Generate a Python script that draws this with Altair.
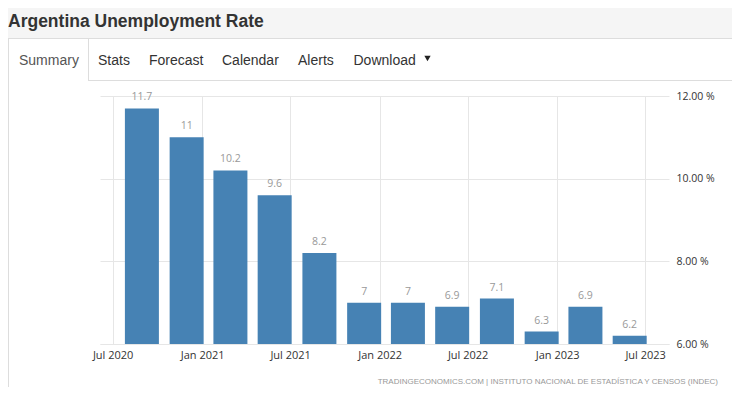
import altair as alt
import pandas as pd

# ---------------- data ----------------
periods = ["2020-09-30", "2020-12-31", "2021-03-31", "2021-06-30",
           "2021-09-30", "2021-12-31", "2022-03-31", "2022-06-30",
           "2022-09-30", "2022-12-31", "2023-03-31", "2023-06-30"]
rates = [11.7, 11.0, 10.2, 9.6, 8.2, 7.0, 7.0, 6.9, 7.1, 6.3, 6.9, 6.2]
rate_labels = ["11.7", "11", "10.2", "9.6", "8.2", "7", "7", "6.9", "7.1", "6.3", "6.9", "6.2"]
x_tick_months = [(2020, 7), (2021, 1), (2021, 7), (2022, 1), (2022, 7), (2023, 1), (2023, 7)]
y_ticks = [6, 8, 10, 12]
page_title = "Argentina Unemployment Rate"
tab_names = ["Summary", "Stats", "Forecast", "Calendar", "Alerts", "Download"]
source_note = "TRADINGECONOMICS.COM | INSTITUTO NACIONAL DE ESTADÍSTICA Y CENSOS (INDEC)"

df = pd.DataFrame({"date": periods, "rate": rates, "label": rate_labels})
dummy = pd.DataFrame({"_": [0]})

# ---------------- layout (plot-area pixel coordinates) ----------------
W, H = 569, 248
PAD = {"left": 92, "top": 88, "right": 63, "bottom": 43}
tab_x = [-81, -2, 49, 122, 198, 253.5]
LINE = "#dddddd"

x_scale = alt.Scale(type="utc", nice=False, padding=0,
                    domain=[alt.DateTime(year=2020, month=6, date=5, utc=True),
                            alt.DateTime(year=2023, month=8, date=19, utc=True)])
y_scale = alt.Scale(domain=[6, 12], nice=False, zero=False, padding=0)

x_enc = alt.X("date:T", scale=x_scale, title=None,
              axis=alt.Axis(values=[alt.DateTime(year=y, month=m, date=1, utc=True) for y, m in x_tick_months],
                            format="%b %Y", grid=True, gridColor="#e6e6e6", ticks=False,
                            domainColor="#e6e6e6", labelFont="Open Sans", labelFontSize=11,
                            labelColor="#333333", labelPadding=5, labelFlush=False,
                            labelOverlap=False))
y_enc = alt.Y("rate:Q", scale=y_scale, title=None,
              axis=alt.Axis(orient="right", values=y_ticks, grid=True, gridColor="#e6e6e6",
                            ticks=False, domain=False,
                            labelExpr="format(datum.value, '.2f') + ' %'",
                            labelFont="Open Sans", labelFontSize=10.5, labelColor="#333333",
                            labelPadding=7))

bars = alt.Chart(df).mark_bar(color="#4682b4", width=34, xOffset=-15).encode(
    x=x_enc, y=y_enc, y2=alt.datum(6))
values_text = alt.Chart(df).mark_text(dx=-15, dy=-8, baseline="alphabetic", align="center",
                                      color="#999999", font="Open Sans", fontSize=10.5).encode(
    x=alt.X("date:T", scale=x_scale), y=alt.Y("rate:Q", scale=y_scale), text="label:N")


def rect(x1, x2, y1, y2, color):
    return alt.Chart(dummy).mark_rect(color=color).encode(
        x=alt.value(x1), x2=alt.value(x2), y=alt.value(y1), y2=alt.value(y2))


def rule(x1, x2, y1, y2, color=LINE):
    return alt.Chart(dummy).mark_rule(color=color, strokeWidth=1).encode(
        x=alt.value(x1), x2=alt.value(x2), y=alt.value(y1), y2=alt.value(y2))


def label(txt, x, y, size, color, weight="normal", align="left", font="Liberation Sans"):
    return alt.Chart(dummy).mark_text(text=txt, align=align, baseline="alphabetic", font=font,
                                      fontSize=size, fontWeight=weight, color=color).encode(
        x=alt.value(x), y=alt.value(y))


decor = [
    rect(-100, 640, -100, -58, "#f5f5f5"),
    rule(-100, 640, -57.5, -57.5),
    rule(-12, 640, -15.5, -15.5),
    rule(-100, -91.5, -15.5, -15.5),
    rule(-11.5, -11.5, -57.5, -15.5),
    rule(-91.5, -91.5, -57.5, 300),
    label(page_title, -92, -69.5, 17.5, "#333333", weight="bold"),
]
for i, (name, tx) in enumerate(zip(tab_names, tab_x)):
    decor.append(label(name, tx, -31, 14, "#555555" if i == 0 else "#333333"))
decor.append(alt.Chart(dummy).mark_point(shape="triangle-down", filled=True, size=40,
                                         color="#222222", opacity=1).encode(
    x=alt.value(327.5), y=alt.value(-37.5)))
decor.append(label(source_note, 618, 288, 8, "#999999", align="right"))

chart = alt.layer(*decor, bars, values_text).properties(
    width=W, height=H, padding=PAD, autosize=alt.AutoSizeParams(type="none"),
    background="white",
).configure_view(stroke=None)

chart.save("out.html", embed_options={"renderer": "svg", "actions": False})
